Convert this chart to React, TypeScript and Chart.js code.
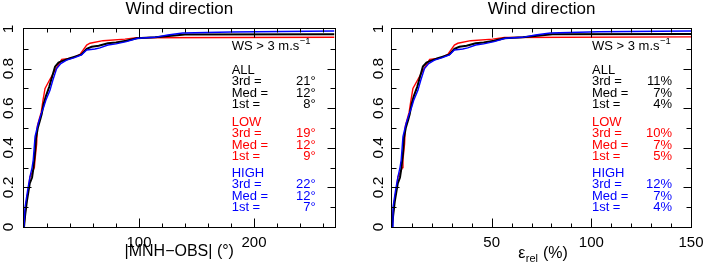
import React, { useEffect, useRef } from "react";
import { Chart, registerables } from "chart.js";
Chart.register(...registerables);

const FONT = '"Liberation Sans", Arial, Helvetica, sans-serif';

// ---------- DATA: wind direction error |MNH-OBS| (deg) ----------
const dirAllX = [0, 1, 2.5, 5, 7, 8, 9.5, 10.5, 12, 14, 15.4, 17, 19, 22, 24.5, 27, 30, 34, 40, 45, 50, 54.5, 58.8, 65, 73, 80, 89, 98, 114, 140, 270];
const dirAllP = [0, 0.06, 0.13, 0.22, 0.25, 0.29, 0.37, 0.45, 0.5, 0.54, 0.57, 0.62, 0.66, 0.709, 0.76, 0.81, 0.83, 0.84, 0.852, 0.862, 0.872, 0.9, 0.91, 0.915, 0.928, 0.932, 0.941, 0.953, 0.958, 0.972, 0.974];
const dirLowX = [0, 1, 2.3, 4, 5.2, 7.5, 9, 9.6, 11, 11.6, 13, 15, 16.5, 18.3, 22, 25.5, 29, 32.8, 41.5, 48.7, 54.5, 57.4, 68.7, 87.8, 98, 270];
const dirLowP = [0, 0.07, 0.136, 0.2, 0.254, 0.28, 0.3, 0.34, 0.42, 0.51, 0.54, 0.58, 0.64, 0.7, 0.74, 0.776, 0.81, 0.847, 0.852, 0.872, 0.919, 0.928, 0.941, 0.949, 0.956, 0.958];
const dirHighX = [0, 0.9, 3, 5.2, 7, 8, 9.6, 12.4, 15.4, 16.8, 19, 22.6, 25, 28.4, 32, 37, 44, 50, 54.5, 61.7, 66, 73, 80, 89, 99, 114, 125, 138, 180, 270];
const dirHighP = [0, 0.1, 0.18, 0.254, 0.3, 0.338, 0.456, 0.524, 0.58, 0.6, 0.64, 0.69, 0.74, 0.8, 0.825, 0.843, 0.855, 0.869, 0.894, 0.899, 0.905, 0.919, 0.925, 0.936, 0.953, 0.958, 0.97, 0.98, 0.985, 0.99];

// ---------- DATA: relative error eps_rel (%) ----------
const relAllX = [0, 0.6, 1.4, 2.9, 4.0, 4.6, 5.5, 6.0, 6.9, 8.1, 8.9, 9.8, 10.9, 12.7, 14.1, 15.5, 17.3, 19.6, 23.0, 25.9, 28.8, 31.3, 33.8, 37.4, 42.0, 46.0, 51.2, 56.4, 65.6, 80.5, 150];
const relAllP = [0, 0.06, 0.13, 0.22, 0.25, 0.29, 0.37, 0.45, 0.5, 0.54, 0.57, 0.62, 0.66, 0.709, 0.76, 0.81, 0.83, 0.84, 0.852, 0.862, 0.872, 0.9, 0.91, 0.915, 0.928, 0.932, 0.941, 0.953, 0.958, 0.973, 0.975];
const relLowX = [0, 0.6, 1.3, 2.3, 3.0, 4.3, 5.2, 5.5, 6.3, 6.7, 7.5, 8.6, 9.5, 10.5, 12.7, 14.7, 16.7, 18.9, 23.9, 28.0, 31.3, 33.0, 39.5, 50.5, 56.4, 150];
const relLowP = [0, 0.07, 0.136, 0.2, 0.254, 0.28, 0.3, 0.34, 0.42, 0.51, 0.54, 0.58, 0.64, 0.7, 0.74, 0.776, 0.81, 0.847, 0.852, 0.872, 0.919, 0.928, 0.941, 0.949, 0.957, 0.96];
const relHighX = [0, 0.5, 1.7, 3.0, 4.0, 4.6, 5.5, 7.1, 8.9, 9.7, 10.9, 13.0, 14.4, 16.3, 18.4, 21.3, 25.3, 28.8, 31.3, 35.5, 38.0, 42.0, 46.0, 51.2, 56.9, 65.6, 71.9, 79.4, 103.5, 150];
const relHighP = [0, 0.1, 0.18, 0.254, 0.3, 0.338, 0.456, 0.524, 0.58, 0.6, 0.64, 0.69, 0.74, 0.8, 0.825, 0.843, 0.855, 0.869, 0.894, 0.899, 0.905, 0.919, 0.925, 0.936, 0.953, 0.958, 0.97, 0.98, 0.986, 0.99];

// ---------- TICKS / LABELS ----------
const yTickValues = [0, 0.2, 0.4, 0.6, 0.8, 1];
const yTickLabels = ["0", "0.2", "0.4", "0.6", "0.8", "1"];
const dirTickValues = [100, 200];
const relTickValues = [50, 100, 150];

const statNames = ["3rd", "Med", "1st"];
const groupNames = ["ALL", "LOW", "HIGH"];
const groupColors = ["#000000", "#ff0000", "#0000ff"];
const dirStats = [["21°", "12°", "8°"], ["19°", "12°", "9°"], ["22°", "12°", "7°"]];
const relStats = [["11%", "7%", "4%"], ["10%", "7%", "5%"], ["12%", "7%", "4%"]];

const TITLE = "Wind direction";
const CONDITION = "WS > 3 m.s";
const CONDITION_SUP = "−1";

type PanelCfg = {
  xMax: number;
  padding: { left: number; right: number; top: number; bottom: number };
  minorStep: number;
  majorStep: number;
  tickValues: number[];
  yLabelX: number;
  textX: number;
  valueRight: number;
  stats: string[][];
  series: { x: number[]; p: number[]; color: string; width: number }[];
  xTitle: "dir" | "rel";
};

const panels: PanelCfg[] = [
  {
    xMax: 270,
    padding: { left: 24, right: 18.5, top: 29, bottom: 38 },
    minorStep: 20,
    majorStep: 100,
    tickValues: dirTickValues,
    yLabelX: 13,
    textX: 231.7,
    valueRight: 315.7,
    stats: dirStats,
    series: [
      { x: dirHighX, p: dirHighP, color: "#0000ff", width: 1.4 },
      { x: dirAllX, p: dirAllP, color: "#000000", width: 2 },
      { x: dirLowX, p: dirLowP, color: "#ff0000", width: 1.4 },
    ],
    xTitle: "dir",
  },
  {
    xMax: 150,
    padding: { left: 39, right: 15, top: 29, bottom: 38 },
    minorStep: 10,
    majorStep: 50,
    tickValues: relTickValues,
    yLabelX: 29.5,
    textX: 239,
    valueRight: 319,
    stats: relStats,
    series: [
      { x: relHighX, p: relHighP, color: "#0000ff", width: 1.4 },
      { x: relAllX, p: relAllP, color: "#000000", width: 2 },
      { x: relLowX, p: relLowP, color: "#ff0000", width: 1.4 },
    ],
    xTitle: "rel",
  },
];

function makeDecor(cfg: PanelCfg) {
  return {
    id: "decor",
    afterDraw(chart: any) {
      const ctx: CanvasRenderingContext2D = chart.ctx;
      const xs = chart.scales.x;
      const ys = chart.scales.y;
      const { left, right, top, bottom } = chart.chartArea;
      const L = Math.round(left) - 0.5;
      const R = Math.round(right) + 0.5;
      const T = Math.round(top) - 0.5;
      const B = Math.round(bottom) + 0.5;
      ctx.save();
      ctx.strokeStyle = "#000";
      ctx.lineWidth = 1;
      ctx.strokeRect(L, T, R - L, B - T);
      ctx.beginPath();
      for (let v = cfg.minorStep; v < cfg.xMax; v += cfg.minorStep) {
        const px = Math.round(xs.getPixelForValue(v)) + 0.5;
        const major = Math.abs(v / cfg.majorStep - Math.round(v / cfg.majorStep)) < 1e-6;
        const len = major ? 9 : 4;
        ctx.moveTo(px, B);
        ctx.lineTo(px, B - len);
        ctx.moveTo(px, T);
        ctx.lineTo(px, T + len);
      }
      for (let i = 1; i < 10; i++) {
        const v = i / 10;
        const py = Math.round(ys.getPixelForValue(v)) + 0.5;
        const len = i % 2 === 0 ? 8 : 5;
        ctx.moveTo(L, py);
        ctx.lineTo(L + len, py);
        ctx.moveTo(R, py);
        ctx.lineTo(R - len, py);
      }
      ctx.stroke();

      ctx.fillStyle = "#000";
      ctx.font = `15px ${FONT}`;
      ctx.textAlign = "center";
      ctx.textBaseline = "alphabetic";
      cfg.tickValues.forEach((v) => {
        ctx.fillText(String(v), xs.getPixelForValue(v), 247);
      });
      ctx.font = `15.5px ${FONT}`;
      yTickValues.forEach((v, i) => {
        ctx.save();
        ctx.translate(cfg.yLabelX, ys.getPixelForValue(v));
        ctx.rotate(-Math.PI / 2);
        ctx.textAlign = "center";
        ctx.fillText(yTickLabels[i], 0, 0);
        ctx.restore();
      });

      ctx.font = `17px ${FONT}`;
      ctx.textAlign = "center";
      ctx.fillText(TITLE, (left + right) / 2, 13.5);

      const cx = (left + right) / 2;
      if (cfg.xTitle === "dir") {
        ctx.font = `16px ${FONT}`;
        ctx.fillText("|MNH−OBS| (°)", cx, 256);
      } else {
        ctx.textAlign = "left";
        ctx.font = `16px ${FONT}`;
        const wE = ctx.measureText("ε").width;
        const wP = ctx.measureText(" (%)").width;
        ctx.font = `11px ${FONT}`;
        const wR = ctx.measureText("rel").width;
        const x0 = cx + 1 - (wE + wR + wP) / 2;
        ctx.font = `16px ${FONT}`;
        ctx.fillText("ε", x0, 257.5);
        ctx.font = `11px ${FONT}`;
        ctx.fillText("rel", x0 + wE + 0.5, 262);
        ctx.font = `16px ${FONT}`;
        ctx.fillText(" (%)", x0 + wE + wR + 1, 257.5);
      }

      ctx.textAlign = "left";
      ctx.font = `13px ${FONT}`;
      ctx.fillText(CONDITION, cfg.textX, 50);
      const wc = ctx.measureText(CONDITION).width;
      ctx.font = `9.5px ${FONT}`;
      ctx.fillText(CONDITION_SUP, cfg.textX + wc + 0.5, 44);

      const groupBase = [73.5, 125.5, 176.5];
      const step = 11.6;
      groupNames.forEach((g, gi) => {
        ctx.fillStyle = groupColors[gi];
        ctx.font = `13px ${FONT}`;
        ctx.textAlign = "left";
        const b0 = groupBase[gi];
        ctx.fillText(g, cfg.textX, b0);
        statNames.forEach((s, si) => {
          const by = b0 + step * (si + 1);
          ctx.textAlign = "left";
          ctx.fillText(s, cfg.textX, by);
          const ws = ctx.measureText(s).width;
          ctx.fillText("=", cfg.textX + ws + 3.5, by);
          ctx.textAlign = "right";
          ctx.fillText(cfg.stats[gi][si], cfg.valueRight, by);
        });
      });
      ctx.restore();
    },
  };
}

function Panel({ cfg }: { cfg: PanelCfg }) {
  const ref = useRef<HTMLCanvasElement | null>(null);
  useEffect(() => {
    if (!ref.current) return;
    const chart = new Chart(ref.current, {
      type: "line",
      data: {
        datasets: cfg.series.map((s) => ({
          data: s.x.map((x, i) => ({ x, y: s.p[i] })),
          borderColor: s.color,
          borderWidth: s.width,
          pointRadius: 0,
          tension: 0,
          fill: false,
        })),
      },
      options: {
        animation: false,
        responsive: false,
        devicePixelRatio: 1,
        layout: { padding: cfg.padding },
        plugins: { legend: { display: false }, tooltip: { enabled: false }, title: { display: false } },
        scales: {
          x: { type: "linear", min: 0, max: cfg.xMax, display: false },
          y: { type: "linear", min: 0, max: 1, display: false },
        },
        events: [],
      },
      plugins: [makeDecor(cfg)],
    } as any);
    return () => chart.destroy();
  }, [cfg]);
  return <canvas ref={ref} width={353} height={265} style={{ display: "block", width: 353, height: 265 }} />;
}

export default function App() {
  return (
    <div style={{ position: "absolute", left: 0, top: 0, width: 706, height: 265, display: "flex", background: "#fff" }}>
      <Panel cfg={panels[0]} />
      <Panel cfg={panels[1]} />
    </div>
  );
}
